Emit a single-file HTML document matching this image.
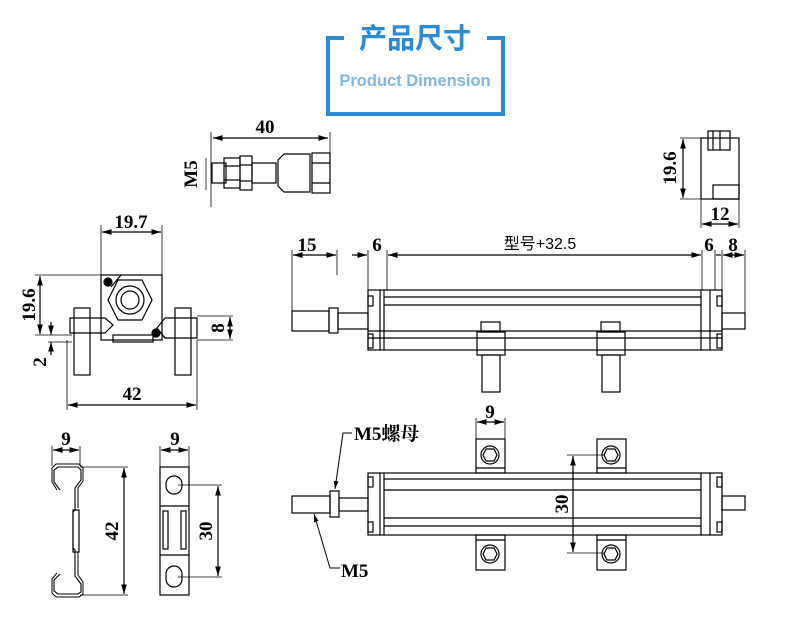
<!DOCTYPE html>
<html><head><meta charset="utf-8"><style>
html,body{margin:0;padding:0;background:#fff}
svg{display:block}
.n{font-family:"Liberation Serif","Noto Serif CJK SC",serif;font-weight:bold;font-size:19px;fill:#000}
</style></head><body>
<svg width="796" height="631" viewBox="0 0 796 631" xmlns="http://www.w3.org/2000/svg">
<defs>
<marker id="a" viewBox="0 0 10 6" refX="10" refY="3" markerWidth="8" markerHeight="5" orient="auto-start-reverse"><path d="M0,0L10,3L0,6z" fill="#000"/></marker>
</defs>
<!-- title -->
<path d="M344,38 H328 V114 H503 V38 H487" fill="none" stroke="#2a8ad4" stroke-width="4"/>
<text x="415" y="48" text-anchor="middle" font-family="'Noto Sans CJK SC',sans-serif" font-weight="bold" font-size="28" fill="#2a8ad4">产品尺寸</text>
<text x="415" y="86" text-anchor="middle" font-family="'Liberation Sans',sans-serif" font-weight="bold" font-size="16.5" fill="#7fb6e6">Product Dimension</text>

<g fill="none" stroke="#000" stroke-width="1.2">
<!-- connector -->
<line x1="211" y1="132" x2="211" y2="207" stroke-width="0.8"/>
<line x1="330" y1="132" x2="330" y2="160" stroke-width="0.8"/>
<line x1="213" y1="138" x2="328" y2="138" marker-start="url(#a)" marker-end="url(#a)"/>
<line x1="206" y1="158" x2="206" y2="190" stroke-width="0.8"/>
<rect x="212" y="163" width="14" height="20"/>
<rect x="224" y="158" width="16" height="30"/><line x1="224" y1="166" x2="240" y2="166"/><line x1="224" y1="180" x2="240" y2="180"/>
<rect x="240" y="156" width="12" height="34"/><line x1="240" y1="165" x2="252" y2="165"/><line x1="240" y1="181" x2="252" y2="181"/>
<rect x="252" y="163" width="24" height="20"/>
<path d="M278,160 L284,154 H310 V192 H284 L278,186 Z"/>
<rect x="312" y="153" width="18" height="40"/><line x1="312" y1="163" x2="330" y2="163"/><line x1="312" y1="183" x2="330" y2="183"/>

<!-- top right side view -->
<rect x="701" y="138" width="38" height="61"/>
<rect x="708" y="131" width="22" height="19"/><line x1="713" y1="131" x2="713" y2="150"/><line x1="720" y1="131" x2="720" y2="150"/>
<rect x="713" y="185" width="26" height="14"/>
<line x1="680" y1="138" x2="701" y2="138" stroke-width="0.8"/><line x1="680" y1="199" x2="701" y2="199" stroke-width="0.8"/>
<line x1="683" y1="139" x2="683" y2="198" marker-start="url(#a)" marker-end="url(#a)"/>
<line x1="701" y1="199" x2="701" y2="228" stroke-width="0.8"/><line x1="739" y1="199" x2="739" y2="228" stroke-width="0.8"/>
<line x1="702" y1="224" x2="738" y2="224" marker-start="url(#a)" marker-end="url(#a)"/>

<!-- left end view -->
<rect x="101" y="275" width="61" height="65"/>
<path d="M111,287 L121,275"/>
<polygon points="118,280 142,280 152,300 142,320 118,320 108,300"/>
<circle cx="130" cy="300" r="14"/><circle cx="130" cy="300" r="9"/>
<circle cx="108" cy="282" r="4" fill="#000"/><circle cx="156" cy="333" r="4" fill="#000"/>
<rect x="113" y="335" width="40" height="7"/>
<path d="M70,318 H105 L113,325 L105,333 H70 Z"/><path d="M157,328 L165,318 H197 V338 H165 Z"/>
<rect x="74" y="308" width="16" height="67"/><rect x="175" y="308" width="16" height="67"/>
<line x1="101" y1="225" x2="101" y2="275" stroke-width="0.8"/><line x1="162" y1="225" x2="162" y2="275" stroke-width="0.8"/>
<line x1="102" y1="232" x2="161" y2="232" marker-start="url(#a)" marker-end="url(#a)"/>
<line x1="35" y1="275" x2="101" y2="275" stroke-width="0.8"/><line x1="35" y1="335" x2="72" y2="335" stroke-width="0.8"/>
<line x1="40" y1="276" x2="40" y2="334" marker-start="url(#a)" marker-end="url(#a)"/>
<line x1="48" y1="342" x2="72" y2="342" stroke-width="0.8"/>
<line x1="51" y1="322" x2="51" y2="335" marker-end="url(#a)"/><line x1="51" y1="355" x2="51" y2="342" marker-end="url(#a)"/>
<line x1="197" y1="316" x2="233" y2="316" stroke-width="0.8"/><line x1="197" y1="340" x2="233" y2="340" stroke-width="0.8"/>
<line x1="230" y1="317" x2="230" y2="339" marker-start="url(#a)" marker-end="url(#a)"/>
<line x1="67" y1="340" x2="67" y2="410" stroke-width="0.8"/><line x1="197" y1="340" x2="197" y2="410" stroke-width="0.8"/>
<line x1="68" y1="405" x2="196" y2="405" marker-start="url(#a)" marker-end="url(#a)"/>

<!-- main side view -->
<rect x="368" y="290" width="354" height="60"/>
<line x1="380" y1="290" x2="380" y2="350"/><line x1="384" y1="290" x2="384" y2="350"/>
<line x1="701" y1="290" x2="701" y2="350"/><line x1="710" y1="290" x2="710" y2="350"/>
<line x1="384" y1="297" x2="701" y2="297"/><line x1="384" y1="305" x2="701" y2="305"/>
<line x1="368" y1="331" x2="722" y2="331"/><line x1="368" y1="338" x2="722" y2="338"/>
<rect x="368" y="296" width="5" height="10"/><rect x="368" y="334" width="5" height="14"/>
<rect x="717" y="296" width="5" height="10"/><rect x="717" y="334" width="5" height="14"/>
<rect x="292" y="311" width="37" height="20"/><rect x="329" y="308" width="9" height="25"/><rect x="338" y="313" width="30" height="16"/>
<rect x="722" y="313" width="23" height="16"/>
<rect x="481" y="322" width="19" height="10"/><rect x="477" y="332" width="28" height="23"/><rect x="482" y="355" width="18" height="37"/>
<rect x="601" y="322" width="19" height="10"/><rect x="597" y="332" width="28" height="23"/><rect x="602" y="355" width="18" height="37"/>
<line x1="292" y1="250" x2="292" y2="311" stroke-width="0.8"/><line x1="337" y1="250" x2="337" y2="275" stroke-width="0.8"/>
<line x1="368" y1="250" x2="368" y2="290" stroke-width="0.8"/><line x1="387" y1="250" x2="387" y2="290" stroke-width="0.8"/>
<line x1="702" y1="250" x2="702" y2="290" stroke-width="0.8"/><line x1="715" y1="250" x2="715" y2="290" stroke-width="0.8"/>
<line x1="722" y1="250" x2="722" y2="313" stroke-width="0.8"/><line x1="745" y1="250" x2="745" y2="313" stroke-width="0.8"/>
<line x1="293" y1="255" x2="336" y2="255" marker-start="url(#a)" marker-end="url(#a)"/>
<line x1="352" y1="255" x2="367" y2="255" marker-end="url(#a)"/>
<line x1="388" y1="255" x2="701" y2="255" marker-start="url(#a)" marker-end="url(#a)"/>
<line x1="716" y1="255" x2="721" y2="255"/>
<line x1="723" y1="255" x2="744" y2="255" marker-start="url(#a)" marker-end="url(#a)"/>

<!-- bottom view -->
<rect x="368" y="473" width="354" height="62"/>
<line x1="380" y1="473" x2="380" y2="535"/><line x1="384" y1="473" x2="384" y2="535"/>
<line x1="701" y1="473" x2="701" y2="535"/><line x1="710" y1="473" x2="710" y2="535"/>
<line x1="384" y1="479" x2="701" y2="479"/><line x1="384" y1="490" x2="701" y2="490"/>
<line x1="384" y1="518" x2="701" y2="518"/><line x1="384" y1="526" x2="701" y2="526"/>
<rect x="368" y="477" width="5" height="10"/><rect x="368" y="522" width="5" height="10"/>
<rect x="717" y="477" width="5" height="10"/><rect x="717" y="522" width="5" height="10"/>
<rect x="292" y="496" width="38" height="17"/><rect x="330" y="491" width="9" height="26"/><rect x="339" y="498" width="29" height="13"/>
<rect x="722" y="496" width="23" height="14"/>
<rect x="476" y="439" width="29" height="34"/><line x1="476" y1="468" x2="505" y2="468"/><circle cx="490" cy="455" r="9"/><polygon points="486,449 494,449 497,455 494,461 486,461 483,455"/>
<rect x="476" y="535" width="29" height="35"/><line x1="476" y1="540" x2="505" y2="540"/><circle cx="490" cy="554" r="9"/><polygon points="486,548 494,548 497,554 494,560 486,560 483,554"/>
<rect x="597" y="439" width="29" height="34"/><line x1="597" y1="468" x2="626" y2="468"/><circle cx="611" cy="455" r="9"/><polygon points="607,449 615,449 618,455 615,461 607,461 604,455"/>
<rect x="597" y="535" width="29" height="35"/><line x1="597" y1="540" x2="626" y2="540"/><circle cx="611" cy="554" r="9"/><polygon points="607,548 615,548 618,554 615,560 607,560 604,554"/>
<line x1="476" y1="418" x2="476" y2="439" stroke-width="0.8"/><line x1="505" y1="418" x2="505" y2="439" stroke-width="0.8"/>
<line x1="477" y1="422" x2="504" y2="422" marker-start="url(#a)" marker-end="url(#a)"/>
<line x1="567" y1="455" x2="605" y2="455" stroke-width="0.8"/><line x1="567" y1="553" x2="605" y2="553" stroke-width="0.8"/>
<line x1="573" y1="456" x2="573" y2="552" marker-start="url(#a)" marker-end="url(#a)"/>
<path d="M352,433 H343 L335,489" stroke-width="1" marker-end="url(#a)"/>
<path d="M340,568 H330 L314,514" stroke-width="1" marker-end="url(#a)"/>

<!-- bottom-left clip profile -->
<path d="M60,490 L54,482 V470 L58,467 H78 L81,470 V480 L75,488 V510 L73,512 V548 L75,550 V576 L81,584 V592 L78,594 H58 L54,591 V580 L60,574" stroke-width="1.1"/>
<path d="M57,490 L52,482 V468 L56,464 H79 L83,468 V481 L78,488 V508 M78,552 V575 L83,582 V594 L79,597 H56 L52,593 V579 L57,573" stroke-width="1"/>
<rect x="73" y="510" width="6" height="42"/>
<line x1="52" y1="446" x2="52" y2="466" stroke-width="0.8"/><line x1="80" y1="446" x2="80" y2="466" stroke-width="0.8"/>
<line x1="53" y1="450" x2="79" y2="450" marker-start="url(#a)" marker-end="url(#a)"/>
<line x1="80" y1="467" x2="128" y2="467" stroke-width="0.8"/><line x1="80" y1="595" x2="128" y2="595" stroke-width="0.8"/>
<line x1="124" y1="468" x2="124" y2="594" marker-start="url(#a)" marker-end="url(#a)"/>
<!-- second part -->
<rect x="160" y="467" width="29" height="128"/>
<line x1="160" y1="506" x2="189" y2="506"/><line x1="160" y1="555" x2="189" y2="555"/>
<rect x="163" y="511" width="5" height="38"/><rect x="181" y="511" width="5" height="38"/>
<rect x="166" y="476" width="16" height="18" rx="8"/><rect x="166" y="566" width="16" height="21" rx="8"/>
<line x1="160" y1="446" x2="160" y2="467" stroke-width="0.8"/><line x1="189" y1="446" x2="189" y2="467" stroke-width="0.8"/>
<line x1="161" y1="450" x2="188" y2="450" marker-start="url(#a)" marker-end="url(#a)"/>
<line x1="178" y1="485" x2="222" y2="485" stroke-width="0.8"/><line x1="178" y1="577" x2="222" y2="577" stroke-width="0.8"/>
<line x1="218" y1="486" x2="218" y2="576" marker-start="url(#a)" marker-end="url(#a)"/>
</g>

<!-- labels -->
<text class="n" x="265" y="133" text-anchor="middle" font-weight="normal">40</text>
<text class="n" transform="translate(197,174) rotate(-90)" text-anchor="middle" font-weight="normal">M5</text>
<text class="n" transform="translate(676,168) rotate(-90)" text-anchor="middle">19.6</text>
<text class="n" x="720" y="220" text-anchor="middle">12</text>
<text class="n" x="131" y="228" text-anchor="middle">19.7</text>
<text class="n" transform="translate(35,305) rotate(-90)" text-anchor="middle">19.6</text>
<text class="n" transform="translate(46,362) rotate(-90)" text-anchor="middle">2</text>
<text class="n" transform="translate(224,328) rotate(-90)" text-anchor="middle">8</text>
<text class="n" x="132" y="400" text-anchor="middle">42</text>
<text class="n" x="307" y="251" text-anchor="middle">15</text>
<text class="n" x="377" y="251" text-anchor="middle">6</text>
<text x="540" y="249" text-anchor="middle" font-family="'Liberation Sans','Noto Sans CJK SC',sans-serif" font-size="16">型号+32.5</text>
<text class="n" x="709" y="251" text-anchor="middle">6</text>
<text class="n" x="733" y="251" text-anchor="middle">8</text>
<text class="n" x="490" y="418" text-anchor="middle">9</text>
<text class="n" transform="translate(568,504) rotate(-90)" text-anchor="middle">30</text>
<text class="n" x="354" y="440">M5螺母</text>
<text class="n" x="341" y="577">M5</text>
<text class="n" x="66" y="445" text-anchor="middle">9</text>
<text class="n" transform="translate(118,531) rotate(-90)" text-anchor="middle">42</text>
<text class="n" x="175" y="445" text-anchor="middle">9</text>
<text class="n" transform="translate(212,531) rotate(-90)" text-anchor="middle">30</text>
</svg>
</body></html>
